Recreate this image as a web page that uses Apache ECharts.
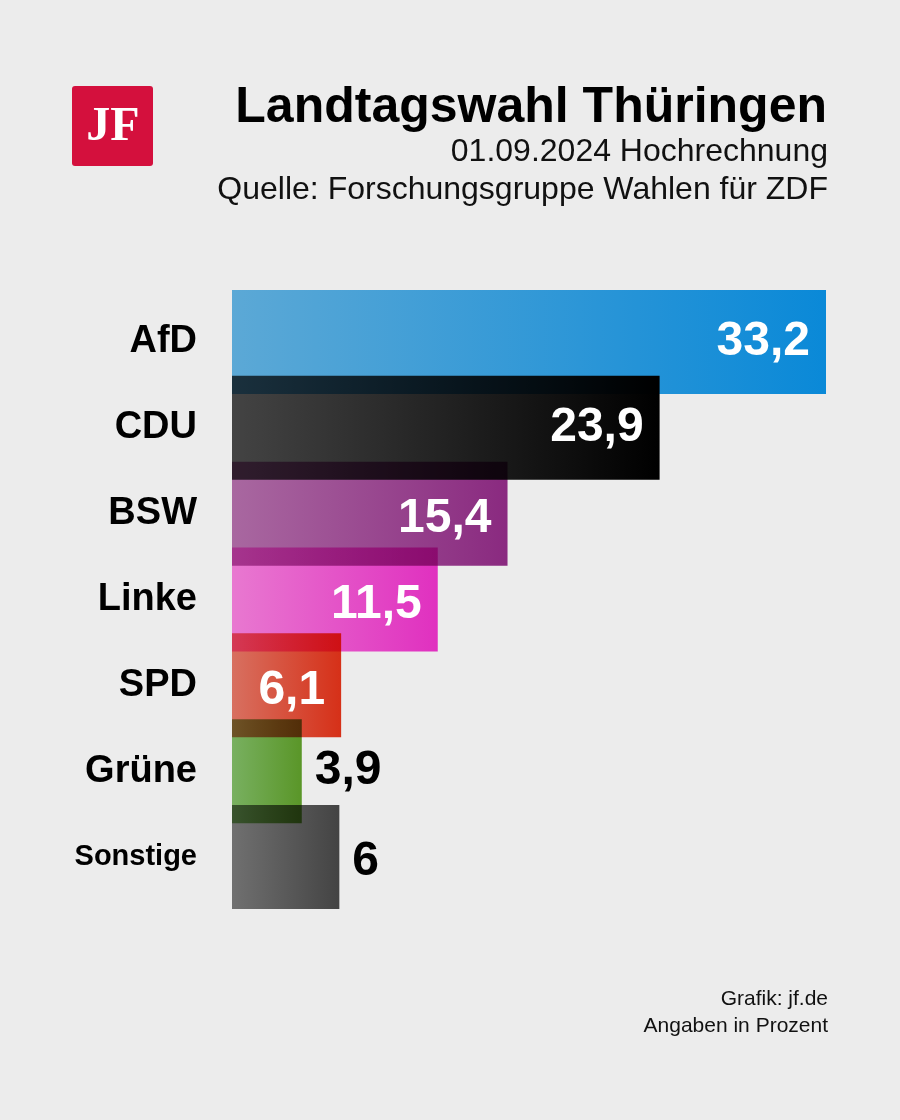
<!DOCTYPE html>
<html>
<head>
<meta charset="utf-8">
<script src="https://cdn.jsdelivr.net/npm/echarts@6/dist/echarts.min.js"></script>
<style>
  html, body { margin: 0; padding: 0; background: #ececec; }
  #chart { width: 900px; height: 1120px; }
</style>
</head>
<body>
<div id="chart"></div>
<script>
// ---- data ----
const categories = ['AfD', 'CDU', 'BSW', 'Linke', 'SPD', 'Grüne', 'Sonstige'];
const values = [33.2, 23.9, 15.4, 11.5, 6.1, 3.9, 6];
const titleText = 'Landtagswahl Thüringen';
const subtitleText = '01.09.2024 Hochrechnung';
const sourceText = 'Quelle: Forschungsgruppe Wahlen für ZDF';
const footerLines = ['Grafik: jf.de', 'Angaben in Prozent'];

// ---- palette (left -> right gradient) ----
const leftColors  = [[92,168,214],[68,68,68],[168,104,160],[232,120,208],[216,112,96],[120,176,96],[112,112,112]];
const rightColors = [[10,137,216],[0,0,0],[138,42,128],[224,48,192],[214,48,24],[90,150,40],[68,68,68]];
const insideLabel = [true, true, true, true, true, false, false];

const BG = 236;
function comp(c) { // compensate for multiply blend over background
  return 'rgb(' + c.map(v => Math.min(255, Math.round(v * 255 / BG))).join(',') + ')';
}
function fmt(v) { return String(v).replace('.', ','); }

const barData = values.map((v, i) => ({
  value: v,
  itemStyle: {
    color: new echarts.graphic.LinearGradient(0, 0, 1, 0, [
      { offset: 0, color: comp(leftColors[i]) },
      { offset: 1, color: comp(rightColors[i]) }
    ])
  }
}));

const labelData = values.map((v, i) => ({
  value: v,
  label: insideLabel[i]
    ? { position: 'insideRight', distance: 16, color: '#ffffff', offset: [0, i > 1 ? 5 : 0] }
    : { position: 'right', distance: 13, color: '#000000', offset: [0, i > 5 ? 5 : 0] }
}));

const chart = echarts.init(document.getElementById('chart'), null, { renderer: 'canvas' });

const option = {
  backgroundColor: '#ececec',
  animation: false,
  grid: { left: 232, right: 74, top: 299, bottom: 220, containLabel: false },
  xAxis: { type: 'value', min: 0, max: 'dataMax', show: false },
  yAxis: {
    type: 'category',
    inverse: true,
    data: categories,
    axisLine: { show: false },
    axisTick: { show: false },
    splitLine: { show: false },
    axisLabel: {
      margin: 35,
      color: '#000',
      fontFamily: 'Liberation Sans',
      fontWeight: 'bold',
      fontSize: 38,
      formatter: function (v) { return v === 'Sonstige' ? '{s|' + v + '}' : v; },
      rich: { s: { fontFamily: 'Liberation Sans', fontWeight: 'bold', fontSize: 29, color: '#000' } }
    }
  },
  series: [
    {
      type: 'bar',
      data: barData,
      barWidth: 104,
      blendMode: 'multiply',
      clip: false,
      silent: true
    },
    {
      type: 'bar',
      data: labelData,
      barWidth: 104,
      barGap: '-100%',
      clip: false,
      itemStyle: { color: 'rgba(0,0,0,0)' },
      silent: true,
      z: 5,
      label: {
        show: true,
        fontFamily: 'Liberation Sans',
        fontWeight: 'bold',
        fontSize: 48,
        formatter: function (p) { return fmt(p.value); }
      }
    }
  ],
  graphic: [
    { type: 'rect', shape: { x: 72, y: 86, width: 81, height: 80, r: 3 }, style: { fill: '#d4103d' } },
    { type: 'text', x: 113, y: 128, style: { text: 'JF', fill: '#fff', font: 'bold 48px "Liberation Serif"', textAlign: 'center', textVerticalAlign: 'middle' } },
    { type: 'text', x: 827, y: 108, style: { text: titleText, fill: '#000', font: 'bold 50px "Liberation Sans"', textAlign: 'right', textVerticalAlign: 'middle' } },
    { type: 'text', x: 828, y: 152, style: { text: subtitleText, fill: '#111', font: '32px "Liberation Sans"', textAlign: 'right', textVerticalAlign: 'middle' } },
    { type: 'text', x: 828, y: 190, style: { text: sourceText, fill: '#111', font: '32px "Liberation Sans"', textAlign: 'right', textVerticalAlign: 'middle' } },
    { type: 'text', x: 828, y: 999, style: { text: footerLines[0], fill: '#111', font: '21px "Liberation Sans"', textAlign: 'right', textVerticalAlign: 'middle' } },
    { type: 'text', x: 828, y: 1026, style: { text: footerLines[1], fill: '#111', font: '21px "Liberation Sans"', textAlign: 'right', textVerticalAlign: 'middle' } }
  ]
};
chart.setOption(option);
</script>
</body>
</html>
